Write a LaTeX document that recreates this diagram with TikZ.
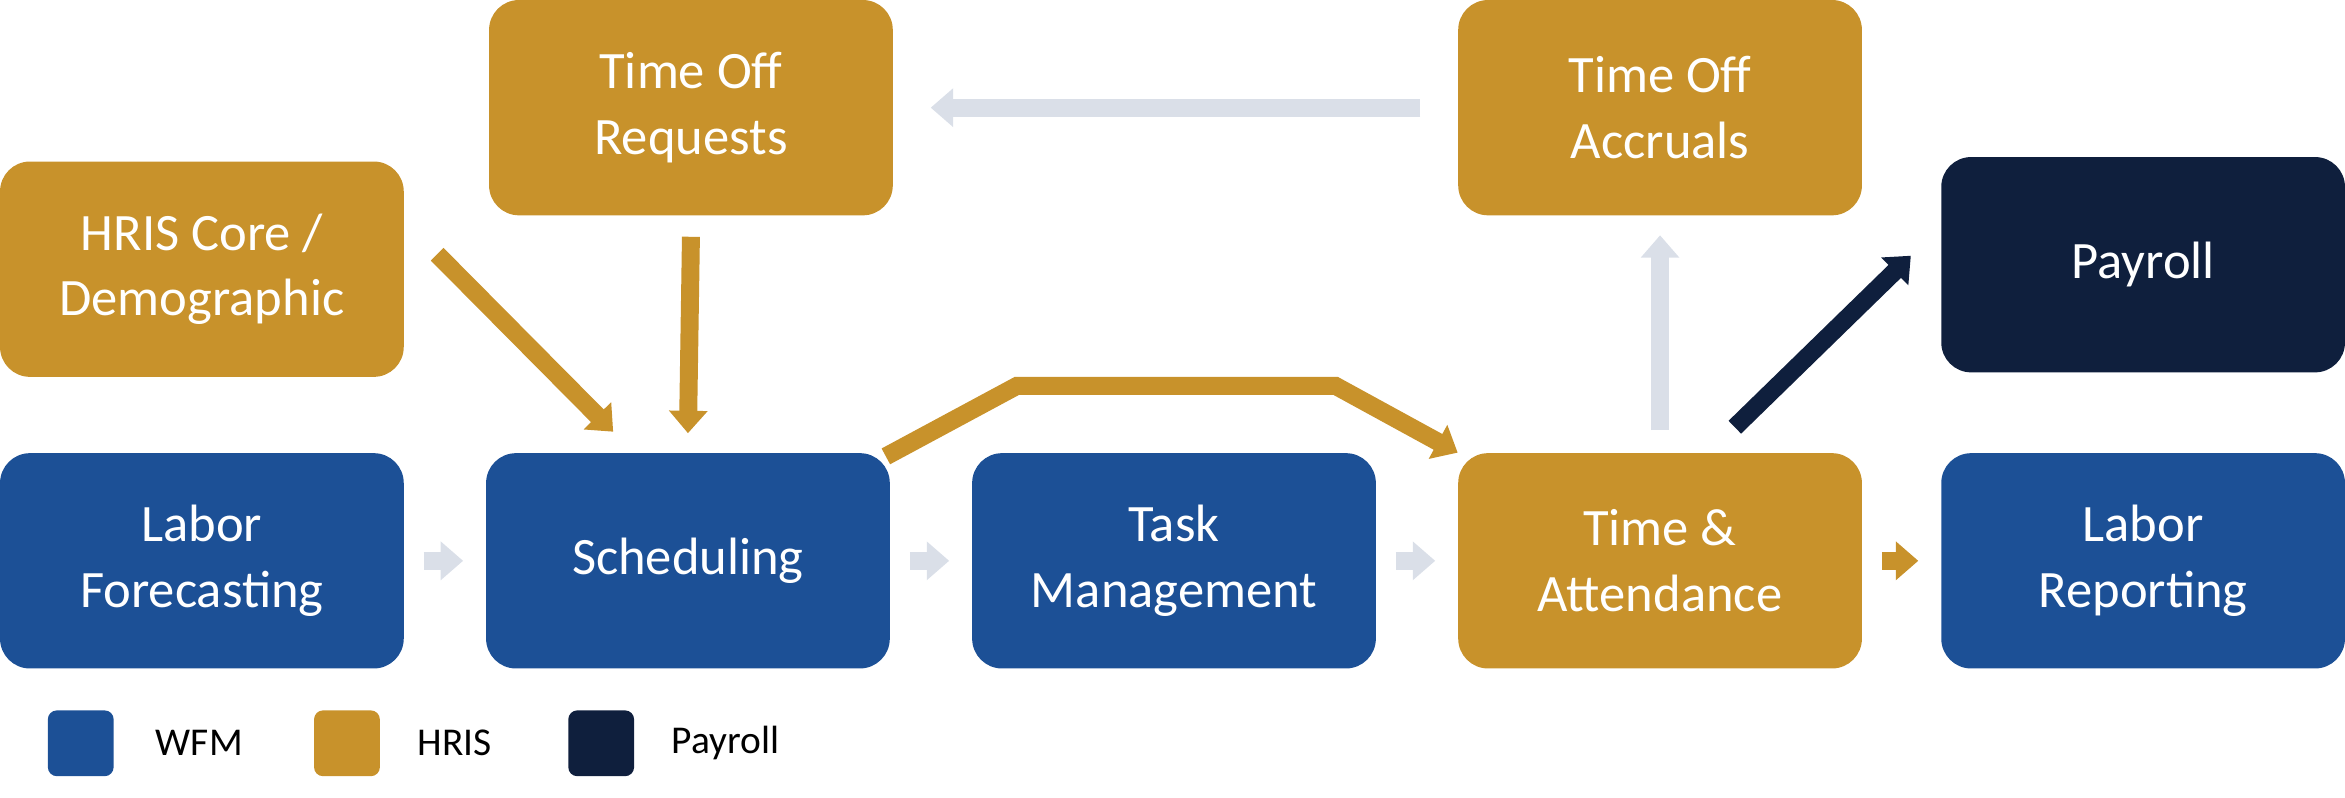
\documentclass[tikz,border=0pt]{standalone}
\usepackage{fontspec}
\setmainfont{Carlito}
\usetikzlibrary{arrows.meta}
\definecolor{wfmblue}{HTML}{1C5096}
\definecolor{hrisgold}{HTML}{C8922B}
\definecolor{payrollnavy}{HTML}{0F1F3D}
\definecolor{flowgray}{HTML}{DADFE8}

\begin{document}
\begin{tikzpicture}[x=0.02cm, y=-0.02cm,
		box_style/.style={rectangle,rounded corners=0.4cm,minimum width=5.4cm,minimum height=2.88cm,
			text=white,align=center,font=\fontsize{20}{25}\selectfont,inner sep=0pt},
		key_style/.style={rectangle,rounded corners=0.12cm,minimum size=0.88cm,inner sep=0pt},
		key_text/.style={anchor=west,font=\fontsize{15}{18}\selectfont},
		flow_style/.style={line width=0.24cm,-{Triangle[length=0.3cm,width=0.5cm]}}]
		\useasboundingbox (0,0) rectangle (1568,533);
		\node[box_style,fill=hrisgold] (hris) at (135,180) {HRIS Core /\\Demographic};
		\node[box_style,fill=hrisgold] (requests) at (462,72) {Time Off\\Requests};
		\node[box_style,fill=hrisgold] (accruals) at (1110,72) {Time Off\\Accruals};
		\node[box_style,fill=payrollnavy] (payroll) at (1433,177) {Payroll};
		\node[box_style,fill=wfmblue] (forecast) at (135,375) {Labor\\Forecasting};
		\node[box_style,fill=wfmblue] (sched) at (460,375) {Scheduling};
		\node[box_style,fill=wfmblue] (task) at (785,375) {Task\\Management};
		\node[box_style,fill=hrisgold] (time) at (1110,375) {Time \&\\Attendance};
		\node[box_style,fill=wfmblue] (report) at (1433,375) {Labor\\Reporting};
		% legend
		\node[key_style,fill=wfmblue] (k1) at (54,497) {};
		\node[key_text] (t1) at (98,497) {WFM};
		\node[key_style,fill=hrisgold] (k2) at (232,497) {};
		\node[key_text] (t2) at (273,497) {HRIS};
		\node[key_style,fill=payrollnavy] (k3) at (402,497) {};
		\node[key_text] (t3) at (443,497) {Payroll};
		% flows
		\draw[flow_style,flowgray] ([xshift=0.26cm]forecast.east) -- ([xshift=-0.3cm]sched.west);
		\draw[flow_style,flowgray] ([xshift=0.26cm]sched.east) -- ([xshift=-0.3cm]task.west);
		\draw[flow_style,flowgray] ([xshift=0.26cm]task.east) -- ([xshift=-0.3cm]time.west);
		\draw[flow_style,hrisgold] ([xshift=0.26cm]time.east) -- ([xshift=-0.3cm]report.west);
		\draw[flow_style,flowgray] ([xshift=-0.5cm]accruals.west) -- ([xshift=0.5cm]requests.east);
		\draw[flow_style,flowgray] ([yshift=0.3cm]time.north) -- ([yshift=-0.26cm]accruals.south);
		\draw[flow_style,hrisgold] ([yshift=-0.28cm]requests.south) -- ([yshift=0.26cm]sched.north);
		\draw[flow_style,hrisgold] ([xshift=0.44cm,yshift=0.2cm]hris.east) -- ([xshift=-1cm,yshift=0.28cm]sched.north);
		\draw[flow_style,hrisgold] ([xshift=-0.06cm,yshift=-0.05cm]sched.north east)
			-- (680,258) -- (893,258) -- (time.north west);
		\draw[flow_style,payrollnavy] ([xshift=1cm,yshift=0.34cm]time.north)
			-- ([xshift=-0.4cm,yshift=0.12cm]payroll.west);
\end{tikzpicture}
\end{document}
